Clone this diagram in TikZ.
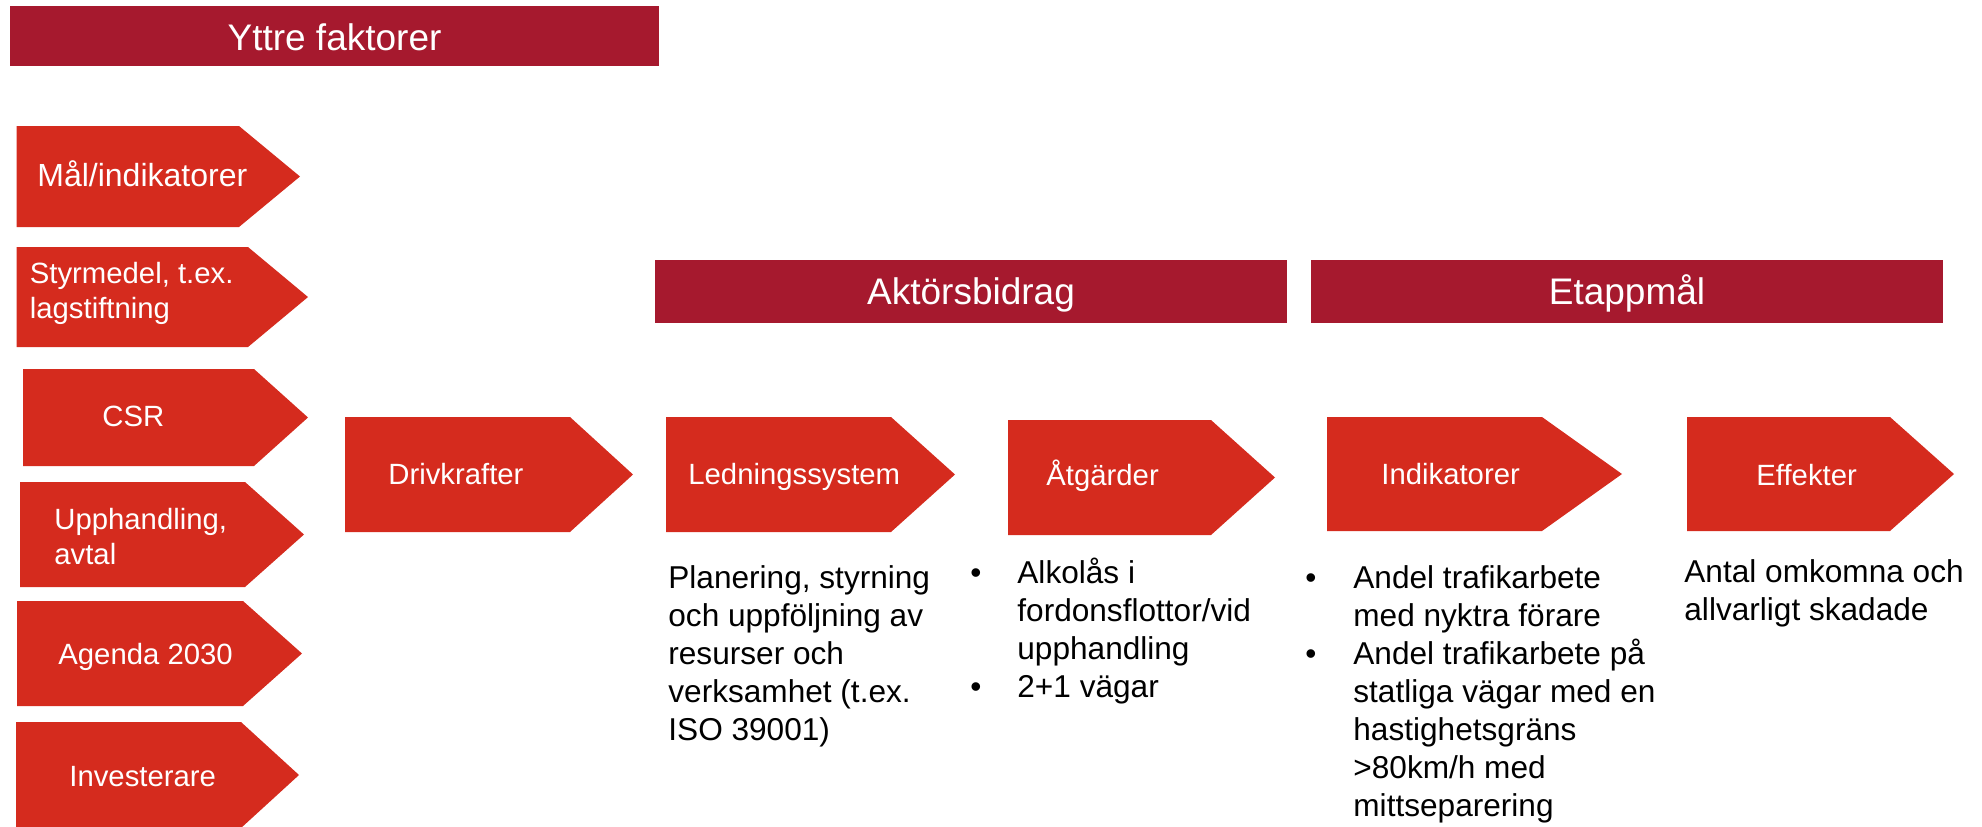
\documentclass[tikz,border=0pt]{standalone}
\usepackage{fontspec}
\setmainfont{Liberation Sans}
\definecolor{barred}{RGB}{166,25,46}
\definecolor{arrowred}{RGB}{213,43,30}
\newcommand\chevshape[5]{% x1, notch, tip, ytop, ybot
  \fill[arrowred] (#1,#4) -- (#2,#4) -- (#3,{(#4+#5)/2}) -- (#2,#5) -- (#1,#5) -- cycle;}
\begin{document}
\begin{tikzpicture}[x=0.5pt,y=-0.5pt,
  ttl/.style={text=white, font=\fontsize{18.5pt}{22pt}\selectfont, inner sep=0, anchor=base},
  lbl/.style={text=white, font=\fontsize{14.65pt}{17.5pt}\selectfont, inner sep=0, anchor=base west, align=left},
  body/.style={text=black, font=\fontsize{15.8pt}{19pt}\selectfont, inner sep=0, anchor=base west, align=left},
  bul/.style={text=black, font=\fontsize{15.8pt}{19pt}\selectfont, inner sep=0, anchor=base west}]
\useasboundingbox (0,0) rectangle (1982,826);
% header bars
\fill[barred] (10,6) rectangle (659,66);
\node[ttl] (yttre) at (334.5,50) {Yttre faktorer};
\fill[barred] (655,260) rectangle (1287,323);
\node[ttl] (aktor) at (971,304) {Aktörsbidrag};
\fill[barred] (1311,260) rectangle (1943,323);
\node[ttl] (etapp) at (1627,304) {Etappmål};
% left column chevrons (multi-line nodes are placed by their last baseline)
\chevshape{16.5}{239}{300}{126}{227}
\node[lbl, font=\fontsize{16pt}{19pt}\selectfont] (mal) at (37,186) {Mål/indikatorer};
\chevshape{16.5}{248}{308}{247}{347}
\node[lbl] (styr) at (29.5,318) {Styrmedel, t.ex.\\lagstiftning};
\chevshape{23}{254}{308}{369}{466}
\node[lbl] (csr) at (102,426) {CSR};
\chevshape{20}{245}{304}{482}{587}
\node[lbl] (upph) at (54,564) {Upphandling,\\avtal};
\chevshape{17}{243}{302}{601}{706}
\node[lbl] (agenda) at (58,664) {Agenda 2030};
\chevshape{16}{241}{299}{722}{828}
\node[lbl] (invest) at (69,786) {Investerare};
% main row chevrons
\chevshape{345}{570}{633}{417}{532}
\node[lbl] (driv) at (388,484) {Drivkrafter};
\chevshape{666}{891}{955}{417}{532}
\node[lbl] (ledn) at (688,484) {Ledningssystem};
\chevshape{1008}{1211}{1275}{420}{535}
\node[lbl] (atg) at (1046,485) {Åtgärder};
\chevshape{1327}{1542}{1622}{417}{531}
\node[lbl] (indik) at (1381,484) {Indikatorer};
\chevshape{1687}{1890}{1954}{417}{531}
\node[lbl] (eff) at (1756,485) {Effekter};
% body texts
\node[body] (plan) at (668,740) {Planering, styrning\\och uppföljning av\\resurser och\\verksamhet (t.ex.\\ISO 39001)};
\node[bul] (b1) at (970,583) {•};
\node[bul] (b2) at (970,697) {•};
\node[body] (atgtext) at (1017,697) {Alkolås i\\fordonsflottor/vid\\upphandling\\2+1 vägar};
\node[bul] (b3) at (1305,588) {•};
\node[bul] (b4) at (1305,664) {•};
\node[body] (indtext) at (1353,816) {Andel trafikarbete\\med nyktra förare\\Andel trafikarbete på\\statliga vägar med en\\hastighetsgräns\\>80km/h med\\mittseparering};
\node[body] (efftext) at (1684,620) {Antal omkomna och\\allvarligt skadade};
\end{tikzpicture}
\end{document}
